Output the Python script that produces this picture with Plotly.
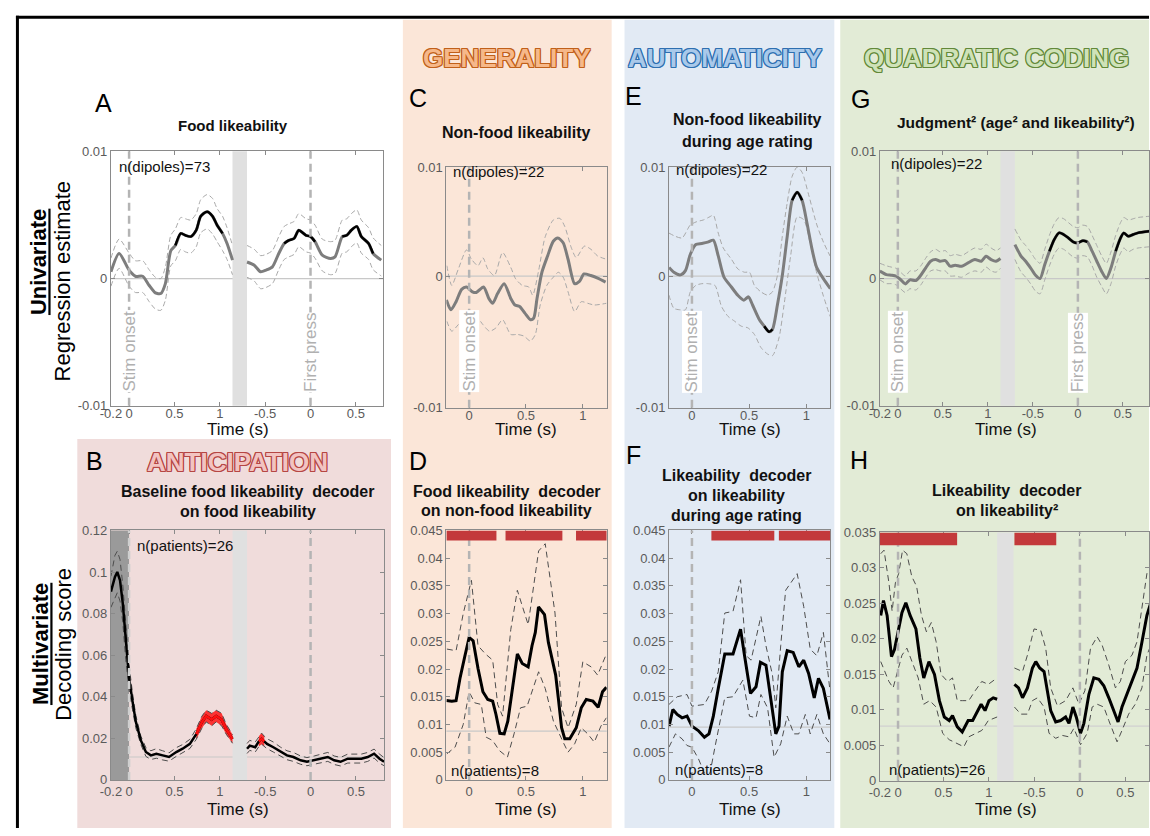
import plotly.graph_objects as go

# ---------------------------------------------------------------
# Data
# top row (univariate) values are in units of 1e-3
# ---------------------------------------------------------------
UNIT_TOP = 1e-3
RESP_SHIFT = 2.0   # response-locked segment is drawn shifted right on a shared axis

# Panel A - food likeability (stim-locked / response-locked)
A_STIM_T = [-0.2, -0.11, 0, 0.07, 0.15, 0.22, 0.29, 0.35, 0.40, 0.46, 0.51, 0.57, 0.62, 0.68, 0.74, 0.79, 0.86, 0.92, 0.97, 1.03, 1.08, 1.14]
A_STIM_MEAN = [0.53, 1.97, 0.66, 0.18, 0.18, -0.53, -1.13, -1.18, -0.40, 2.20, 2.60, 3.55, 3.40, 3.30, 3.80, 4.90, 5.26, 4.90, 4.20, 3.55, 2.76, 1.45]
A_STIM_UP = [1.6, 3.1, 2.0, 1.4, 1.4, 0.7, 0.1, 0.0, 0.9, 3.4, 3.9, 4.8, 4.7, 4.6, 5.1, 6.2, 6.6, 6.3, 5.5, 4.9, 4.0, 2.6]
A_STIM_LO = [-0.6, 0.8, -0.6, -1.1, -1.1, -1.8, -2.4, -2.5, -1.7, 1.0, 1.4, 2.3, 2.1, 2.0, 2.5, 3.6, 3.9, 3.5, 2.9, 2.2, 1.5, 0.3]
A_RESP_T = [-0.70, -0.62, -0.55, -0.49, -0.42, -0.35, -0.29, -0.24, -0.18, -0.13, -0.05, 0.0, 0.05, 0.13, 0.22, 0.27, 0.35, 0.40, 0.45, 0.51, 0.56, 0.64, 0.69, 0.78]
A_RESP_MEAN = [1.30, 1.05, 0.53, 0.66, 0.92, 1.97, 2.76, 3.00, 3.16, 3.80, 3.40, 3.30, 2.90, 1.84, 1.58, 1.70, 3.30, 3.40, 3.80, 4.10, 3.30, 2.76, 1.97, 1.45]
A_RESP_UP = [2.6, 2.3, 1.8, 1.9, 2.2, 3.3, 4.1, 4.3, 4.5, 5.1, 4.7, 4.6, 4.2, 3.1, 2.9, 3.0, 4.6, 4.7, 5.1, 5.4, 4.6, 4.0, 3.2, 2.6]
A_RESP_LO = [0.1, -0.2, -0.8, -0.7, -0.4, 0.7, 1.5, 1.7, 1.9, 2.5, 2.1, 2.0, 1.6, 0.6, 0.3, 0.4, 2.0, 2.1, 2.5, 2.8, 2.0, 1.5, 0.7, 0.2]
A_SIG_STIM = [(0.50, 1.03)]
A_SIG_RESP = [(-0.29, 0.05), (0.35, 0.69)]

# Panel C - non-food likeability
C_T = [-0.2, -0.16, -0.115, -0.066, -0.023, 0.029, 0.063, 0.127, 0.173, 0.207, 0.25, 0.308, 0.366, 0.403, 0.444, 0.49, 0.54, 0.568, 0.597, 0.64, 0.69, 0.74, 0.78, 0.827, 0.87, 0.928, 0.97, 1.01, 1.07, 1.13, 1.2]
C_MEAN = [-1.8, -2.56, -1.94, -1.0, -0.82, -1.19, -1.24, -0.82, -1.69, -2.06, -1.32, -0.57, -1.69, -2.19, -2.31, -2.81, -3.31, -3.18, -1.69, 0.3, 1.54, 2.66, 2.91, 2.54, 1.29, -0.57, -0.4, 0.17, 0.05, -0.15, -0.45]
C_UP_T = [-0.196, -0.153, -0.095, -0.023, 0.02, 0.078, 0.121, 0.164, 0.222, 0.294, 0.366, 0.409, 0.467, 0.524, 0.559, 0.611, 0.669, 0.741, 0.798, 0.841, 0.899, 0.942, 1.014, 1.072, 1.13, 1.207]
C_UP = [0.8, -0.7, 0.55, 2.0, 1.3, 0.8, 1.4, 0.55, 0.05, 1.8, 0.67, -0.2, -0.7, -0.82, -1.44, 0.42, 3.0, 4.28, 4.4, 3.78, 2.16, 1.42, 2.29, 2.04, 1.54, 1.29]
C_LO_T = [-0.196, -0.153, -0.095, -0.037, 0.006, 0.063, 0.121, 0.179, 0.236, 0.294, 0.366, 0.424, 0.481, 0.539, 0.582, 0.625, 0.683, 0.741, 0.784, 0.827, 0.87, 0.928, 0.986, 1.043, 1.101, 1.207]
C_LO = [-3.43, -4.18, -3.68, -3.18, -3.06, -3.06, -3.68, -4.18, -3.93, -3.31, -4.43, -4.43, -4.55, -4.93, -4.43, -2.19, -0.7, -0.07, 0.3, -0.07, -1.19, -2.69, -1.94, -2.06, -2.19, -2.06]

# Panel E - non-food likeability during age rating
E_T = [-0.2, -0.158, -0.1, -0.057, -0.014, 0.034, 0.086, 0.138, 0.187, 0.23, 0.28, 0.345, 0.40, 0.454, 0.494, 0.53, 0.59, 0.632, 0.675, 0.704, 0.747, 0.79, 0.833, 0.876, 0.92, 0.963, 1.006, 1.05, 1.09, 1.15, 1.21]
E_MEAN = [0.67, 0.3, 0.1, 0.42, 1.67, 2.41, 2.49, 2.59, 2.74, 1.54, -0.07, -0.82, -1.44, -1.82, -1.57, -2.19, -3.31, -3.8, -4.23, -4.05, -2.19, 0.05, 3.03, 5.77, 6.39, 5.77, 4.03, 2.04, 0.67, -0.2, -0.95]
E_UP_T = [-0.201, -0.144, -0.086, -0.014, 0.043, 0.101, 0.158, 0.187, 0.23, 0.273, 0.345, 0.402, 0.46, 0.503, 0.546, 0.603, 0.661, 0.704, 0.747, 0.79, 0.833, 0.876, 0.92, 0.963, 1.02, 1.092, 1.149, 1.207]
E_UP = [3.28, 3.03, 2.91, 3.9, 4.15, 4.28, 4.53, 4.65, 3.28, 2.16, 1.29, 0.55, 0.3, 0.3, -0.7, -1.19, -1.44, -1.19, 0.05, 3.03, 5.6, 7.6, 8.3, 7.9, 6.2, 3.9, 2.6, 1.54]
E_LO_T = [-0.201, -0.158, -0.101, -0.057, -0.014, 0.034, 0.086, 0.144, 0.201, 0.259, 0.316, 0.374, 0.431, 0.489, 0.546, 0.603, 0.661, 0.704, 0.761, 0.805, 0.862, 0.92, 0.977, 1.034, 1.092, 1.149, 1.207]
E_LO = [-1.44, -2.44, -2.56, -2.56, -1.19, -0.7, -0.57, -0.57, -0.7, -2.31, -3.06, -3.43, -3.8, -3.93, -4.43, -5.42, -5.92, -6.04, -4.68, -2.19, 1.5, 4.5, 4.3, 2.5, 0.2, -1.5, -3.06]
E_SIG = [(0.63, 0.71), (0.86, 0.97)]

# Panel G - judgment squared
G_STIM_T = [-0.2, -0.127, -0.073, -0.018, 0.03, 0.084, 0.135, 0.2, 0.255, 0.31, 0.364, 0.42, 0.47, 0.527, 0.58, 0.636, 0.71, 0.78, 0.855, 0.927, 0.98, 1.036, 1.09, 1.14]
G_STIM_MEAN = [0.58, 0.31, 0.26, 0.18, -0.08, -0.42, -0.10, -0.16, 0.26, 0.84, 1.36, 1.49, 1.36, 1.41, 0.97, 1.05, 0.97, 1.23, 1.49, 1.36, 1.75, 1.49, 1.36, 1.57]
G_STIM_UP = [1.2, 1.0, 0.9, 0.8, 0.5, 0.2, 0.6, 0.6, 1.0, 1.6, 2.1, 2.3, 2.1, 2.2, 1.8, 1.9, 1.8, 2.1, 2.4, 2.3, 2.7, 2.4, 2.2, 2.4]
G_STIM_LO = [-0.1, -0.4, -0.4, -0.5, -0.8, -1.1, -0.8, -0.9, -0.5, 0.1, 0.6, 0.7, 0.6, 0.6, 0.2, 0.2, 0.1, 0.4, 0.6, 0.5, 0.9, 0.6, 0.5, 0.8]
G_RESP_T = [-0.70, -0.63, -0.58, -0.526, -0.47, -0.42, -0.368, -0.316, -0.263, -0.21, -0.158, -0.105, -0.053, 0.0, 0.053, 0.105, 0.158, 0.21, 0.263, 0.316, 0.368, 0.42, 0.474, 0.51, 0.56, 0.614, 0.667, 0.80]
G_RESP_MEAN = [2.67, 1.75, 1.36, 0.84, 0.26, 0.0, 1.10, 2.15, 3.06, 3.59, 3.46, 3.19, 2.88, 2.80, 2.98, 2.88, 2.15, 1.36, 0.58, 0.0, 0.84, 2.15, 3.19, 3.59, 3.32, 3.46, 3.59, 3.72]
G_RESP_UP = [3.9, 3.0, 2.6, 2.1, 1.5, 1.2, 2.3, 3.4, 4.3, 4.8, 4.7, 4.4, 4.1, 4.0, 4.2, 4.1, 3.4, 2.6, 1.8, 1.2, 2.1, 3.4, 4.4, 4.8, 4.6, 4.7, 4.8, 4.9]
G_RESP_LO = [1.5, 0.5, 0.1, -0.4, -1.0, -1.2, -0.1, 1.0, 1.9, 2.4, 2.3, 2.0, 1.7, 1.6, 1.8, 1.7, 1.0, 0.1, -0.6, -1.2, -0.4, 1.0, 2.0, 2.4, 2.1, 2.3, 2.4, 2.5]
G_SIG_RESP = [(-0.32, 0.11), (0.42, 0.80)]

# Panel B - baseline food likeability decoder
B_STIM_T = [-0.2, -0.156, -0.13, -0.1, -0.07, -0.037, 0.0, 0.037, 0.074, 0.13, 0.185, 0.24, 0.30, 0.37, 0.44, 0.52, 0.59, 0.67, 0.74, 0.80, 0.85, 0.91, 0.96, 1.02, 1.07, 1.14]
B_STIM_MEAN = [0.0906, 0.0976, 0.100, 0.096, 0.085, 0.066, 0.049, 0.038, 0.028, 0.019, 0.0134, 0.0118, 0.0126, 0.0118, 0.011, 0.0134, 0.015, 0.0173, 0.022, 0.0276, 0.0307, 0.029, 0.0307, 0.029, 0.0244, 0.0197]
B_STIM_UP = [0.098, 0.108, 0.110, 0.106, 0.094, 0.074, 0.055, 0.042, 0.031, 0.021, 0.0155, 0.014, 0.015, 0.014, 0.013, 0.0155, 0.017, 0.0195, 0.0245, 0.0305, 0.0335, 0.032, 0.0335, 0.032, 0.0268, 0.0218]
B_STIM_LO = [0.083, 0.088, 0.090, 0.086, 0.076, 0.058, 0.043, 0.034, 0.025, 0.017, 0.0113, 0.0098, 0.0104, 0.0096, 0.009, 0.0113, 0.013, 0.0151, 0.0195, 0.0247, 0.0279, 0.026, 0.0279, 0.026, 0.022, 0.0176]
B_RESP_T = [-0.70, -0.67, -0.61, -0.57, -0.54, -0.51, -0.48, -0.41, -0.33, -0.26, -0.19, -0.11, -0.04, 0.04, 0.11, 0.19, 0.26, 0.33, 0.41, 0.48, 0.56, 0.63, 0.70, 0.76, 0.81]
B_RESP_MEAN = [0.015, 0.0165, 0.0157, 0.0185, 0.0197, 0.0185, 0.0173, 0.0157, 0.0134, 0.0118, 0.011, 0.0094, 0.0087, 0.0094, 0.0102, 0.011, 0.0094, 0.0087, 0.0102, 0.0102, 0.0102, 0.011, 0.0126, 0.0102, 0.0087]
B_RESP_UP = [0.0175, 0.019, 0.0182, 0.021, 0.0225, 0.021, 0.0198, 0.0182, 0.0157, 0.014, 0.0132, 0.0115, 0.0107, 0.0115, 0.0124, 0.0132, 0.0115, 0.0108, 0.0124, 0.0124, 0.0124, 0.0132, 0.0148, 0.0124, 0.0107]
B_RESP_LO = [0.0127, 0.0142, 0.0134, 0.016, 0.0172, 0.016, 0.015, 0.0134, 0.0112, 0.0097, 0.0089, 0.0075, 0.0068, 0.0075, 0.0081, 0.0089, 0.0074, 0.0067, 0.0081, 0.0081, 0.0081, 0.0089, 0.0105, 0.0081, 0.0068]
B_SIG_STIM = [(0.74, 1.14)]
B_SIG_RESP = [(-0.57, -0.51)]
B_CHANCE = 0.011
B_BASELINE = (-0.2, 0.0)

# Panel D - food likeability decoder on non-food likeability
D_T = [-0.2, -0.153, -0.115, -0.081, -0.037, 0.0, 0.035, 0.078, 0.121, 0.164, 0.207, 0.236, 0.27, 0.308, 0.34, 0.382, 0.424, 0.467, 0.519, 0.553, 0.582, 0.61, 0.663, 0.697, 0.761, 0.784, 0.813, 0.841, 0.885, 0.942, 0.986, 1.03, 1.089, 1.135, 1.173, 1.207]
D_MEAN = [0.0143, 0.0142, 0.0143, 0.0183, 0.0224, 0.0257, 0.0251, 0.0201, 0.0159, 0.0145, 0.0142, 0.0118, 0.0084, 0.0083, 0.0106, 0.0171, 0.0227, 0.021, 0.0204, 0.0242, 0.0266, 0.0312, 0.0298, 0.0248, 0.0189, 0.0148, 0.0094, 0.0074, 0.0074, 0.0094, 0.013, 0.0145, 0.0142, 0.0131, 0.0159, 0.0167]
D_UP_T = [-0.196, -0.115, -0.052, 0.02, 0.078, 0.144, 0.207, 0.251, 0.294, 0.366, 0.424, 0.481, 0.519, 0.611, 0.669, 0.755, 0.813, 0.87, 0.942, 1.0, 1.072, 1.13, 1.207]
D_UP = [0.0236, 0.0233, 0.030, 0.036, 0.0242, 0.0227, 0.0216, 0.0136, 0.0115, 0.0271, 0.0342, 0.0307, 0.028, 0.0413, 0.0426, 0.0301, 0.013, 0.0094, 0.0136, 0.0213, 0.0204, 0.0189, 0.0227]
D_LO_T = [-0.196, -0.124, -0.052, 0.0, 0.049, 0.107, 0.15, 0.207, 0.265, 0.337, 0.395, 0.452, 0.51, 0.611, 0.669, 0.741, 0.827, 0.87, 0.928, 0.986, 1.043, 1.101, 1.159, 1.207]
D_LO = [0.0047, 0.0059, 0.010, 0.0159, 0.0139, 0.0136, 0.0077, 0.0071, 0.0053, 0.0041, 0.0083, 0.013, 0.0133, 0.0195, 0.0165, 0.0106, 0.0068, 0.005, 0.0065, 0.0094, 0.0083, 0.0068, 0.0097, 0.0112]
D_SIG = [(-0.2, 0.24), (0.32, 0.82), (0.94, 1.21)]
D_CHANCE = 0.0088

# Panel F - likeability decoder during age rating
F_T = [-0.2, -0.167, -0.129, -0.086, -0.043, 0.0, 0.055, 0.109, 0.149, 0.187, 0.230, 0.287, 0.359, 0.425, 0.46, 0.512, 0.56, 0.599, 0.647, 0.695, 0.733, 0.761, 0.79, 0.833, 0.885, 0.934, 0.977, 1.02, 1.069, 1.106, 1.149, 1.207]
F_MEAN = [0.0097, 0.0127, 0.0118, 0.0112, 0.0115, 0.0097, 0.0089, 0.0077, 0.0083, 0.0115, 0.0165, 0.0227, 0.0227, 0.0272, 0.0224, 0.0156, 0.0168, 0.0212, 0.0207, 0.0136, 0.0083, 0.0097, 0.0195, 0.0233, 0.023, 0.0204, 0.0216, 0.0192, 0.0148, 0.0183, 0.0165, 0.0109]
F_UP_T = [-0.201, -0.129, -0.043, 0.0, 0.109, 0.172, 0.23, 0.287, 0.359, 0.425, 0.474, 0.517, 0.603, 0.647, 0.704, 0.733, 0.776, 0.819, 0.92, 0.977, 1.034, 1.092, 1.149, 1.207]
F_UP = [0.0136, 0.015, 0.0154, 0.0133, 0.0136, 0.016, 0.0195, 0.0301, 0.0304, 0.0361, 0.0224, 0.0216, 0.0295, 0.0242, 0.0189, 0.013, 0.0242, 0.0342, 0.0372, 0.0313, 0.0236, 0.0224, 0.0266, 0.016]
F_LO_T = [-0.201, -0.144, -0.086, -0.043, 0.0, 0.057, 0.109, 0.158, 0.201, 0.287, 0.359, 0.445, 0.503, 0.56, 0.603, 0.661, 0.718, 0.776, 0.833, 0.891, 0.934, 0.991, 1.034, 1.092, 1.149, 1.207]
F_LO = [0.0059, 0.0083, 0.0074, 0.0062, 0.0059, 0.0038, 0.0012, 0.0012, 0.0059, 0.0148, 0.015, 0.018, 0.0115, 0.0112, 0.0154, 0.013, 0.0041, 0.0065, 0.0115, 0.0083, 0.0083, 0.0118, 0.0083, 0.0118, 0.0083, 0.0065]
F_SIG = [(0.17, 0.72), (0.76, 1.21)]
F_CHANCE = 0.0095

# Panel H - likeability decoder on likeability squared
H_STIM_T = [-0.19, -0.16, -0.12, -0.072, -0.039, 0.007, 0.043, 0.086, 0.133, 0.197, 0.24, 0.283, 0.34, 0.401, 0.455, 0.509, 0.563, 0.599, 0.652, 0.706, 0.771, 0.821, 0.878, 0.914, 0.957, 1.0, 1.047, 1.09]
H_STIM_MEAN = [0.0233, 0.0254, 0.0233, 0.0175, 0.0185, 0.0214, 0.0237, 0.0251, 0.0233, 0.0214, 0.0173, 0.0145, 0.0168, 0.015, 0.0113, 0.009, 0.0085, 0.0092, 0.0076, 0.0069, 0.0085, 0.0085, 0.0099, 0.0108, 0.0099, 0.0113, 0.0117, 0.0115]
H_STIM_UP_T = [-0.19, -0.154, -0.1, -0.065, -0.029, 0.007, 0.05, 0.097, 0.151, 0.204, 0.258, 0.312, 0.366, 0.419, 0.473, 0.545, 0.599, 0.652, 0.706, 0.778, 0.849, 0.921, 0.993, 1.09]
H_STIM_UP = [0.032, 0.0325, 0.0279, 0.0239, 0.0279, 0.0292, 0.0325, 0.032, 0.0288, 0.0274, 0.0233, 0.021, 0.0223, 0.0196, 0.015, 0.014, 0.0145, 0.0113, 0.0113, 0.0113, 0.0127, 0.014, 0.0136, 0.0145]
H_STIM_LO_T = [-0.19, -0.147, -0.1, -0.054, -0.011, 0.043, 0.097, 0.151, 0.222, 0.283, 0.348, 0.419, 0.491, 0.563, 0.652, 0.724, 0.778, 0.849, 0.921, 0.993, 1.09]
H_STIM_LO = [0.0168, 0.0154, 0.014, 0.0131, 0.015, 0.0177, 0.0187, 0.0168, 0.0145, 0.0108, 0.0113, 0.0104, 0.0067, 0.0058, 0.0053, 0.0048, 0.0062, 0.0067, 0.0071, 0.0085, 0.009]
H_RESP_T = [-0.72, -0.675, -0.631, -0.577, -0.522, -0.485, -0.442, -0.394, -0.358, -0.321, -0.266, -0.212, -0.157, -0.12, -0.077, -0.04, 0.007, 0.044, 0.099, 0.153, 0.208, 0.263, 0.318, 0.383, 0.42, 0.463, 0.518, 0.573, 0.628, 0.683, 0.737, 0.78]
H_RESP_MEAN = [0.0136, 0.0131, 0.0117, 0.0131, 0.0159, 0.0168, 0.0159, 0.0154, 0.0127, 0.0099, 0.0083, 0.0085, 0.009, 0.0081, 0.0104, 0.009, 0.0067, 0.0081, 0.0122, 0.0145, 0.0143, 0.0134, 0.0117, 0.0094, 0.0083, 0.0104, 0.0122, 0.014, 0.0159, 0.0196, 0.0233, 0.0251]
H_RESP_UP_T = [-0.72, -0.631, -0.577, -0.504, -0.431, -0.376, -0.321, -0.248, -0.157, -0.077, -0.011, 0.055, 0.117, 0.19, 0.245, 0.318, 0.391, 0.445, 0.5, 0.573, 0.628, 0.682, 0.737, 0.78]
H_RESP_UP = [0.0159, 0.0154, 0.0177, 0.0214, 0.0212, 0.0187, 0.0131, 0.0106, 0.0113, 0.0131, 0.0108, 0.0127, 0.0187, 0.0203, 0.0191, 0.0163, 0.0131, 0.014, 0.0168, 0.0177, 0.0196, 0.0246, 0.0292, 0.030]
H_RESP_LO_T = [-0.72, -0.65, -0.577, -0.522, -0.467, -0.394, -0.339, -0.266, -0.193, -0.12, -0.066, 0.007, 0.08, 0.135, 0.19, 0.263, 0.318, 0.409, 0.463, 0.536, 0.609, 0.682, 0.737, 0.78]
H_RESP_LO = [0.0104, 0.0094, 0.0094, 0.0113, 0.0117, 0.0104, 0.0067, 0.006, 0.0064, 0.0062, 0.0074, 0.0051, 0.0067, 0.0104, 0.0108, 0.0104, 0.0085, 0.0055, 0.0071, 0.0094, 0.0108, 0.0131, 0.0177, 0.0191]
H_SIG_STIM = [(-0.2, 0.65)]
H_SIG_RESP = [(-0.72, -0.26)]
H_CHANCE = 0.0077

# tick labels
SPLIT_TICKS = [-0.2, 0, 0.5, 1, -0.5, 0, 0.5]          # stim-locked then response-locked
SPLIT_TICK_SEG = ['s', 's', 's', 's', 'r', 'r', 'r']
SINGLE_TICKS = [0, 0.5, 1]
UNI_YTICKS = [-0.01, 0, 0.01]
B_YTICKS = [0, 0.02, 0.04, 0.06, 0.08, 0.1, 0.12]
DF_YTICKS = [0, 0.005, 0.01, 0.015, 0.02, 0.025, 0.03, 0.035, 0.04, 0.045]
H_YTICKS = [0, 0.005, 0.01, 0.015, 0.02, 0.025, 0.03, 0.035]

# ---------------------------------------------------------------
# Layout helpers (pixel positions of the original composition)
# ---------------------------------------------------------------
W, H = 1150, 836
FONT = "Liberation Sans, Arial, sans-serif"
AXC = '#8a8a8a'
TICKC = '#5a5a5a'
ONSET = '#b4b4b4'

# subplot number -> (left, right, top, bottom) in pixels
BOX = {1: (101, 376, 147, 406),   # A
       2: (440, 602, 163, 408),   # C
       3: (665, 828, 163, 408),   # E
       4: (878, 1150, 147, 406),  # G
       5: (101, 377, 533, 787),   # B
       6: (440, 602, 533, 787),   # D
       7: (665, 828, 533, 787),   # F
       8: (878, 1150, 535, 788)}  # H

fig = go.Figure()
shapes = []
annotations = []


def xa(n):
    return 'x' if n == 1 else f'x{n}'


def ya(n):
    return 'y' if n == 1 else f'y{n}'


def resp(t):
    """Response-locked time -> position on the shared x axis."""
    return [v + RESP_SHIFT for v in t]


def scale(vals, k):
    return [v * k for v in vals]


def masked(t, y, windows):
    return [v if any(a <= tt <= b for a, b in windows) else None for tt, v in zip(t, y)]


def line(n, x, y, color, width, dash=None, smooth=False):
    fig.add_trace(go.Scatter(
        x=x, y=y, mode='lines', xaxis=xa(n), yaxis=ya(n),
        line=dict(color=color, width=width, dash=dash,
                  shape='spline' if smooth else 'linear', smoothing=0.7),
        hoverinfo='skip', showlegend=False, connectgaps=False))


def band(n, x, lo, up, t, windows, color):
    # filled polygon between lower and upper bound inside each window
    for a, b in windows:
        idx = [i for i, tt in enumerate(t) if a <= tt <= b]
        if not idx:
            continue
        xs = [x[i] for i in idx]
        fig.add_trace(go.Scatter(
            x=xs + xs[::-1], y=[up[i] for i in idx] + [lo[i] for i in idx][::-1],
            mode='lines', fill='toself', fillcolor=color, line=dict(width=0, color=color),
            xaxis=xa(n), yaxis=ya(n), hoverinfo='skip', showlegend=False))


def vline(n, x, color=ONSET, width=2.5):
    shapes.append(dict(type='line', xref=xa(n), yref=f'{ya(n)} domain', x0=x, x1=x, y0=0, y1=1,
                       line=dict(color=color, width=width, dash='8px,5px'), layer='above'))


def hline(n, y, color='#c8c8c8', width=1.2):
    shapes.append(dict(type='line', xref=f'{xa(n)} domain', yref=ya(n), x0=0, x1=1, y0=y, y1=y,
                       line=dict(color=color, width=width), layer='below'))


def vband(n, x0, x1, color):
    shapes.append(dict(type='rect', xref=xa(n), yref=f'{ya(n)} domain', x0=x0, x1=x1, y0=0, y1=1,
                       fillcolor=color, line=dict(width=0), layer='below'))


def sigbars(n, windows, y0, y1, shift=0.0):
    for a, b in windows:
        shapes.append(dict(type='rect', xref=xa(n), yref=ya(n), x0=a + shift, x1=b + shift,
                           y0=y0, y1=y1, fillcolor='#c3393b', line=dict(width=0), layer='above'))


def text(x, y, s, size, color='#111111', xanchor='center', yanchor='middle', angle=0, font_extra=None):
    font = dict(family=FONT, size=size, color=color)
    if font_extra:
        font.update(font_extra)
    annotations.append(dict(x=x / W, y=1 - y / H, xref='paper', yref='paper', text=s,
                            showarrow=False, xanchor=xanchor, yanchor=yanchor,
                            textangle=angle, font=font))


def outline(color):
    offs = [(-1, -1), (1, -1), (-1, 1), (1, 1), (0, 1), (1, 0), (0, -1), (-1, 0)]
    return ', '.join(f'{dx}px {dy}px 0 {color}' for dx, dy in offs)


def axis_text(n, x, y_px, s):
    """Rotated event label anchored to a data x position."""
    annotations.append(dict(x=x, xref=xa(n), y=1 - y_px / H, yref='paper', text=s,
                            showarrow=False, textangle=-90, xanchor='center', yanchor='bottom',
                            bgcolor='white', borderpad=0,
                            font=dict(family=FONT, size=17, color='#b0b0b0')))


# ---------------------------------------------------------------
# Background panels and frame
# ---------------------------------------------------------------
for x0, x1, y0, y1, col in [(396, 607, 13, 836, '#fbe6d8'),
                            (620, 832, 13, 836, '#e2eaf4'),
                            (838, 1150, 13, 836, '#e2ebd6'),
                            (67, 384, 440, 836, '#f0dcdb')]:
    shapes.append(dict(type='rect', xref='paper', yref='paper', x0=x0 / W, x1=x1 / W,
                       y0=1 - y1 / H, y1=1 - y0 / H, fillcolor=col, line=dict(width=0), layer='below'))
shapes.append(dict(type='line', xref='paper', yref='paper', x0=5 / W, x1=1, y0=1 - 10.5 / H, y1=1 - 10.5 / H,
                   line=dict(color='black', width=3), layer='above'))
shapes.append(dict(type='line', xref='paper', yref='paper', x0=6.5 / W, x1=6.5 / W, y0=0, y1=1 - 9 / H,
                   line=dict(color='black', width=3), layer='above'))

# ---------------------------------------------------------------
# Univariate (top row)
# ---------------------------------------------------------------
TOP_MEAN = '#7d7d7d'
TOP_CI = '#a8a8a8'
CI_DASH = '5px,3px'


def split_top(n, st, sm, su, sl, rt, rm, ru, rl, sig_s, sig_r, gap):
    k = UNIT_TOP
    hline(n, 0)
    vband(n, gap[0], gap[1], '#e0e0e0')
    for x, up, lo, mean, t, sig in [(st, su, sl, sm, st, sig_s), (resp(rt), ru, rl, rm, rt, sig_r)]:
        line(n, x, scale(up, k), TOP_CI, 1, CI_DASH, True)
        line(n, x, scale(lo, k), TOP_CI, 1, CI_DASH, True)
        line(n, x, scale(mean, k), TOP_MEAN, 3, None, True)
        if sig:
            line(n, x, masked(t, scale(mean, k), sig), '#000000', 2.5, None, True)
    vline(n, 0)
    vline(n, RESP_SHIFT)


split_top(1, A_STIM_T, A_STIM_MEAN, A_STIM_UP, A_STIM_LO,
          A_RESP_T, A_RESP_MEAN, A_RESP_UP, A_RESP_LO, A_SIG_STIM, A_SIG_RESP, (1.14, 1.30))
split_top(4, G_STIM_T, G_STIM_MEAN, G_STIM_UP, G_STIM_LO,
          G_RESP_T, G_RESP_MEAN, G_RESP_UP, G_RESP_LO, [], G_SIG_RESP, (1.14, 1.30))

for n, t, m, ut, u, lt, lo, sig in [(2, C_T, C_MEAN, C_UP_T, C_UP, C_LO_T, C_LO, []),
                                    (3, E_T, E_MEAN, E_UP_T, E_UP, E_LO_T, E_LO, E_SIG)]:
    hline(n, 0)
    line(n, ut, scale(u, UNIT_TOP), TOP_CI, 1, CI_DASH, True)
    line(n, lt, scale(lo, UNIT_TOP), TOP_CI, 1, CI_DASH, True)
    line(n, t, scale(m, UNIT_TOP), TOP_MEAN, 3, None, True)
    if sig:
        line(n, t, masked(t, scale(m, UNIT_TOP), sig), '#000000', 2.5, None, True)
    vline(n, 0)

# ---------------------------------------------------------------
# Multivariate (bottom row)
# ---------------------------------------------------------------
BOT_CI = '#4d4d4d'
BOT_DASH = '6px,4px'

# B
hline(5, B_CHANCE)
vband(5, B_BASELINE[0], B_BASELINE[1], '#9a9a9a')
vband(5, 1.14, 1.30, '#e0e0e0')
for x, t, m, u, lo, sig in [(B_STIM_T, B_STIM_T, B_STIM_MEAN, B_STIM_UP, B_STIM_LO, B_SIG_STIM),
                            (resp(B_RESP_T), B_RESP_T, B_RESP_MEAN, B_RESP_UP, B_RESP_LO, B_SIG_RESP)]:
    band(5, x, lo, u, t, sig, 'rgba(255,20,20,0.85)')
    line(5, x, u, BOT_CI, 1, BOT_DASH)
    line(5, x, lo, BOT_CI, 1, BOT_DASH)
    line(5, x, m, '#000000', 2.5)
    line(5, x, masked(t, m, sig), '#ff1010', 2.5)
vline(5, 0, '#cfcfcf')
vline(5, RESP_SHIFT)

# D, F
for n, t, m, ut, u, lt, lo, sig, ch in [(6, D_T, D_MEAN, D_UP_T, D_UP, D_LO_T, D_LO, D_SIG, D_CHANCE),
                                        (7, F_T, F_MEAN, F_UP_T, F_UP, F_LO_T, F_LO, F_SIG, F_CHANCE)]:
    hline(n, ch)
    line(n, ut, u, BOT_CI, 1, BOT_DASH)
    line(n, lt, lo, BOT_CI, 1, BOT_DASH)
    line(n, t, m, '#000000', 3)
    vline(n, 0)
    sigbars(n, sig, 0.0432, 0.045)

# H
hline(8, H_CHANCE, '#d0d0d0')
vband(8, 1.09, 1.27, '#e0e0e0')
line(8, H_STIM_UP_T, H_STIM_UP, BOT_CI, 1, BOT_DASH)
line(8, H_STIM_LO_T, H_STIM_LO, BOT_CI, 1, BOT_DASH)
line(8, H_STIM_T, H_STIM_MEAN, '#000000', 3)
line(8, resp(H_RESP_UP_T), H_RESP_UP, BOT_CI, 1, BOT_DASH)
line(8, resp(H_RESP_LO_T), H_RESP_LO, BOT_CI, 1, BOT_DASH)
line(8, resp(H_RESP_T), H_RESP_MEAN, '#000000', 3)
vline(8, 0)
vline(8, RESP_SHIFT)
sigbars(8, H_SIG_STIM, 0.0332, 0.035)
sigbars(8, H_SIG_RESP, 0.0332, 0.035, RESP_SHIFT)

# ---------------------------------------------------------------
# Axes
# ---------------------------------------------------------------
split_vals = [v if s == 's' else v + RESP_SHIFT for v, s in zip(SPLIT_TICKS, SPLIT_TICK_SEG)]
split_text = [f'{v:g}' for v in SPLIT_TICKS]

XCFG = {1: ([-0.2, 2.8], split_vals, split_text),
        2: ([-0.2, 1.21], SINGLE_TICKS, None),
        3: ([-0.2, 1.21], SINGLE_TICKS, None),
        4: ([-0.2, 2.79], split_vals, split_text),
        5: ([-0.2, 2.81], split_vals, split_text),
        6: ([-0.2, 1.21], SINGLE_TICKS, None),
        7: ([-0.2, 1.21], SINGLE_TICKS, None),
        8: ([-0.2, 2.76], split_vals, split_text)}
CE_TOP = 0.0083  # upper edge of the C/E boxes (their top is compressed in the original)
YCFG = {1: ([-0.01, 0.01], UNI_YTICKS, UNI_YTICKS),
        2: ([-0.01, CE_TOP], [-0.01, 0, CE_TOP], UNI_YTICKS),
        3: ([-0.01, CE_TOP], [-0.01, 0, CE_TOP], UNI_YTICKS),
        4: ([-0.01, 0.01], UNI_YTICKS, UNI_YTICKS),
        5: ([0, 0.12], B_YTICKS, B_YTICKS),
        6: ([0, 0.045], DF_YTICKS, DF_YTICKS),
        7: ([0, 0.045], DF_YTICKS, DF_YTICKS),
        8: ([0, 0.035], H_YTICKS, H_YTICKS)}

common = dict(showline=True, mirror='ticks', linecolor=AXC, linewidth=1, ticks='inside',
              ticklen=4, tickcolor=AXC, showgrid=False, zeroline=False,
              tickfont=dict(family=FONT, size=13, color=TICKC))
layout = {}
for n, (l, r, t, b) in BOX.items():
    xr, xv, xt = XCFG[n]
    yr, yv, yt = YCFG[n]
    sfx = '' if n == 1 else str(n)
    # top-row time labels sit tight under the axis, bottom-row ones a little lower
    layout[f'xaxis{sfx}'] = dict(domain=[l / W, r / W], range=xr, anchor=ya(n), tickvals=xv,
                                 ticktext=xt if xt else [f'{v:g}' for v in xv],
                                 ticklabelstandoff=-4 if n <= 4 else 0, **common)
    layout[f'yaxis{sfx}'] = dict(domain=[1 - b / H, 1 - t / H], range=yr, anchor=xa(n), tickvals=yv,
                                 ticktext=[f'{v:g}' for v in yt], **common)

# ---------------------------------------------------------------
# Text
# ---------------------------------------------------------------
for s, x, col, fill in [('GENERALITY', 501, '#c0601a', '#f6b88a'),
                        ('AUTOMATICITY', 722, '#2e6fb0', '#a9c9ea'),
                        ('QUADRATIC CODING', 996, '#62883a', '#cfe2b8')]:
    text(x, 52, f'<b>{s}</b>', 26, fill, font_extra=dict(shadow=outline(col)))
text(229, 463, '<b>ANTICIPATION</b>', 26, '#f2c3c1', font_extra=dict(shadow=outline('#b54643')))

for s, x, y in [('A', 93, 98), ('B', 84, 462), ('C', 411, 93), ('D', 411, 462),
                ('E', 629, 91), ('F', 629, 456), ('G', 858, 94), ('H', 857, 461)]:
    text(x, y, s, 25, '#000000')

for s, x, y, sz in [('Food likeability', 224, 121, 15),
                    ('Non-food likeability', 511, 128, 16),
                    ('Non-food likeability', 744, 115, 16), ('during age rating', 744, 137, 16),
                    ('Judgment² (age² and likeability²)', 1016, 118, 15.5),
                    ('Baseline food likeability  decoder', 239, 493, 16), ('on food likeability', 239, 514, 16),
                    ('Food likeability  decoder', 501, 493, 16), ('on non-food likeability', 501, 513, 16),
                    ('Likeability  decoder', 733, 477, 16), ('on likeability', 733, 497, 16),
                    ('during age rating', 733, 518, 16),
                    ('Likeability  decoder', 1006, 492, 16), ('on likeability²', 1006, 513, 16)]:
    text(x, y, f'<b>{s.replace("  ", "&nbsp; ")}</b>', sz, '#111111')

for s, x, y in [('n(dipoles)=73', 107, 162), ('n(dipoles)=22', 445, 167), ('n(dipoles)=22', 670, 165),
                ('n(dipoles)=22', 887, 159), ('n(patients)=26', 125, 548), ('n(patients)=8', 443, 777),
                ('n(patients)=8', 669, 776), ('n(patients)=26', 885, 776)]:
    text(x, y, s, 15, '#111111', xanchor='left')

for x in [229, 520, 747, 1005]:
    text(x, 430, 'Time (s)', 17, '#111111')
    text(x, 817, 'Time (s)', 17, '#111111')

for n in [1, 2, 3, 4]:
    axis_text(n, 0, 393, 'Stim onset')
for n in [1, 4]:
    axis_text(n, RESP_SHIFT, 393, 'First press')

text(28, 260, '<b>Univariate</b>', 22, '#000000', angle=-90, font_extra=dict(lineposition='under'))
text(53, 279, 'Regression estimate', 22, '#000000', angle=-90)
text(30, 649, '<b>Multivariate</b>', 22, '#000000', angle=-90, font_extra=dict(lineposition='under'))
text(53, 649, 'Decoding score', 22, '#000000', angle=-90)

# the figure fills the page; every position above is a fraction of it
fig.update_layout(autosize=True, margin=dict(l=0, r=0, t=0, b=0),
                  paper_bgcolor='white', plot_bgcolor='white', showlegend=False,
                  font=dict(family=FONT), shapes=shapes, annotations=annotations, **layout)

fig.write_html("out.html", config={'displayModeBar': False},
               default_width='100vw', default_height='100vh',
               post_script="document.body.style.margin='0'; document.body.style.overflow='hidden';"
                           " Plotly.Plots.resize(document.getElementById('{plot_id}'));")
